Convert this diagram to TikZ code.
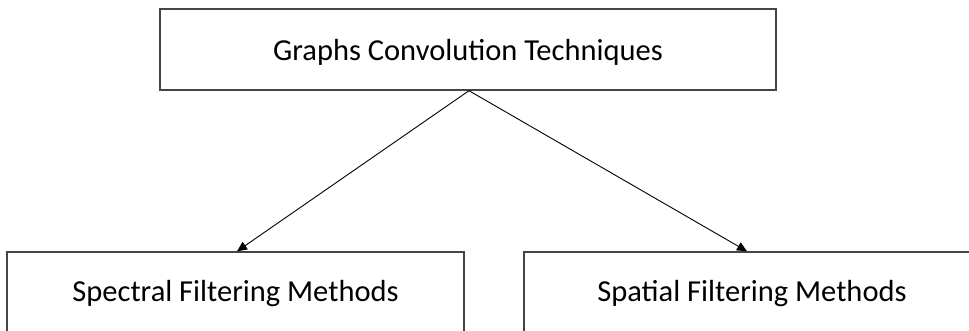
\documentclass[tikz,border=0pt]{standalone}
\usepackage{fontspec}
\setmainfont{Carlito}
\usetikzlibrary{arrows.meta}
\definecolor{boxline}{RGB}{70,70,70}
\tikzset{
  box/.style={draw=boxline, line width=1.4pt, fill=white, rectangle, inner sep=0pt,
    font=\fontsize{30.5}{36}\selectfont, text=black, text depth=0pt},
  link/.style={draw=black, line width=0.9pt,
    -{Triangle[length=10pt, width=9pt]}},
}
\begin{document}
\begin{tikzpicture}[x=1pt, y=-1pt]
  \useasboundingbox (0,0) rectangle (969,331);
  \clip (0,0) rectangle (969,331);
  % root of the taxonomy
  \node[box, minimum width=616pt, minimum height=81pt, text height=23pt]
    (root) at (468,49.5) {Graphs Convolution Techniques};
  % the two families of methods
  \node[box, minimum width=457pt, minimum height=84pt, text height=14pt]
    (spec) at (235.5,294) {Spectral Filtering Methods};
  \node[box, minimum width=456pt, minimum height=84pt, text height=14pt]
    (spat) at (752,294) {Spatial Filtering Methods};
  % branches
  \coordinate (fork) at ([xshift=1pt]root.south);
  \draw[link] (fork) -- ([xshift=1.5pt]spec.north);
  \draw[link] (fork) -- ([xshift=-5pt]spat.north);
\end{tikzpicture}
\end{document}
